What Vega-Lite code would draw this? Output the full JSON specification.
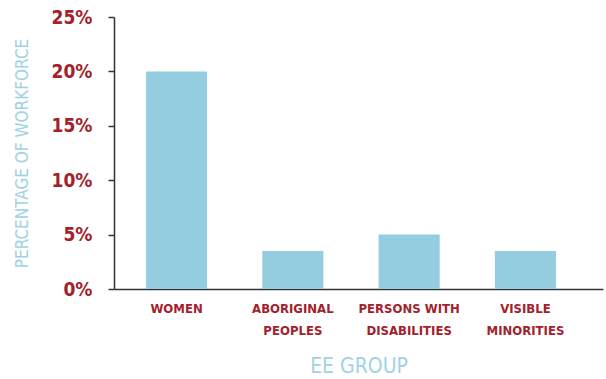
{
  "$schema": "https://vega.github.io/schema/vega-lite/v6.json",
  "autosize": "none",
  "width": 489,
  "height": 272,
  "padding": {"left": 114, "top": 17, "right": 3, "bottom": 90},
  "background": "white",
  "config": {"view": {"stroke": null}, "font": "DejaVu Sans Condensed, Roboto"},
  "data": {"values": [
    {"group": "WOMEN", "pct": 0.20},
    {"group": "ABORIGINAL|PEOPLES", "pct": 0.035},
    {"group": "PERSONS WITH|DISABILITIES", "pct": 0.05},
    {"group": "VISIBLE|MINORITIES", "pct": 0.035}
  ]},
  "mark": {"type": "bar", "color": "#93cddf"},
  "encoding": {
    "x": {
      "field": "group", "type": "nominal", "sort": null,
      "scale": {"paddingInner": 0.475, "paddingOuter": 0.34, "align": 0.405},
      "axis": {
        "title": "EE GROUP",
        "titleFont": "DejaVu Sans Condensed, Roboto", "titleFontSize": 21, "titleFontWeight": "normal",
        "titleColor": "#9fd3e3", "titlePadding": 18,
        "labelExpr": "split(datum.value, '|')",
        "labelAngle": 0, "labelFont": "DejaVu Sans Condensed, Roboto", "labelFontSize": 13, "labelFontWeight": "bold",
        "labelColor": "#a3212b", "labelPadding": 13, "labelLineHeight": 22,
        "ticks": false, "domainColor": "#333333", "domainWidth": 1.5
      }
    },
    "y": {
      "field": "pct", "type": "quantitative",
      "scale": {"domain": [0, 0.25]},
      "axis": {
        "title": "PERCENTAGE OF WORKFORCE",
        "values": [0, 0.05, 0.1, 0.15, 0.2, 0.25],
        "format": ".0%", "grid": false,
        "titleFont": "DejaVu Sans Condensed, Roboto", "titleFontSize": 17, "titleFontWeight": "normal",
        "titleColor": "#9fd3e3", "titlePadding": 20,
        "labelFont": "DejaVu Sans Condensed, Roboto", "labelFontSize": 19, "labelFontWeight": "bold",
        "labelColor": "#a3212b", "labelPadding": 16,
        "tickSize": 6, "tickColor": "#333333", "tickWidth": 1.5,
        "domainColor": "#333333", "domainWidth": 1.5
      }
    }
  }
}
